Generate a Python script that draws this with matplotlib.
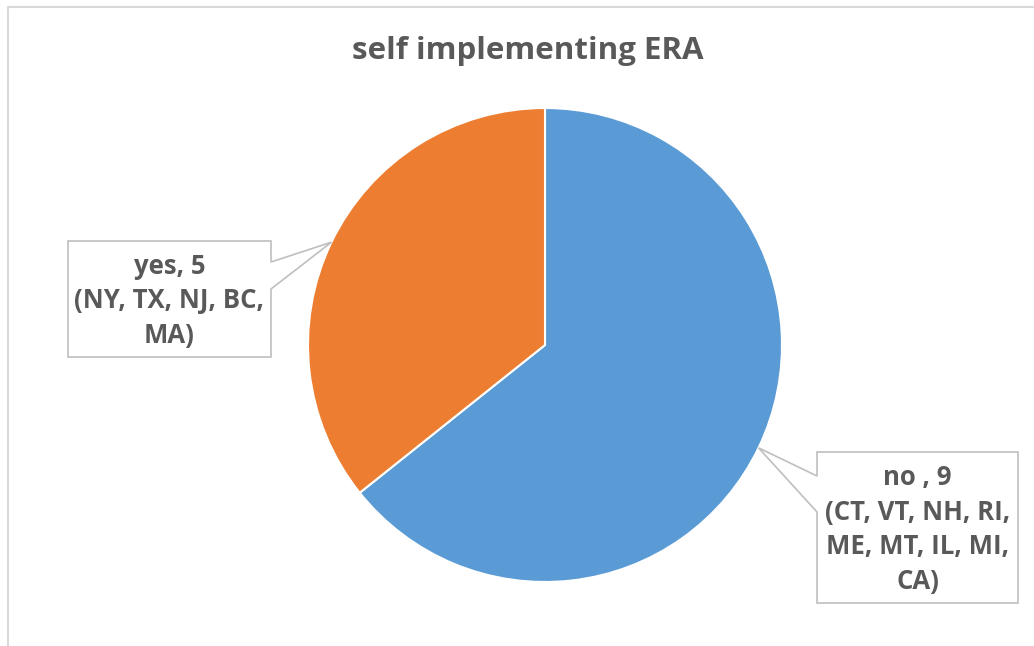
import numpy as np
import matplotlib
matplotlib.use('Agg')
import matplotlib.pyplot as plt
from matplotlib.patches import Polygon

# categories and counts
categories = ['no ', 'yes']
counts = [9, 5]
states = [
    ['CT', 'VT', 'NH', 'RI', 'ME', 'MT', 'IL', 'MI', 'CA'],
    ['NY', 'TX', 'NJ', 'BC', 'MA'],
]
colors = ['#5B9BD5', '#ED7D31']

W, H = 1034, 646
TXT = '#595959'
FONT = 'Open Sans'


def fy(y):
    # pixel row (from top) -> data y
    return H - y


def make_label(cat, n, st):
    # four states per line, last line closed with a bracket
    rows = [', '.join(st[i:i + 4]) for i in range(0, len(st), 4)]
    body = ',\n'.join(rows)
    return f'{cat}, {n}\n({body})'


fig = plt.figure(figsize=(W / 100, H / 100), dpi=100)
ax = fig.add_axes([0, 0, 1, 1])
ax.set_xlim(0, W)
ax.set_ylim(0, H)
ax.set_aspect('equal')
ax.axis('off')

# chart area border (left and top edges visible)
ax.plot([7.5, 7.5], [fy(7), 0], color='#d9d9d9', lw=1.5, solid_capstyle='butt')
ax.plot([7, W], [fy(7), fy(7)], color='#d9d9d9', lw=1.5, solid_capstyle='butt')

cx, cy, r = 545, 345, 237
wedges, _ = ax.pie(counts, colors=colors, startangle=90, counterclock=False,
                   center=(cx, fy(cy)), radius=r, frame=True,
                   wedgeprops=dict(edgecolor='white', linewidth=1.5))
ax.set_xlim(0, W)
ax.set_ylim(0, H)
ax.axis('off')

ax.text(528, fy(51), 'self implementing ERA', ha='center', va='center',
        fontsize=22.5, fontweight='bold', color=TXT, family=FONT)

# callout boxes: (left, top, right, bottom), side of the pointer, pointer base rows
boxes = [
    dict(box=(817, 452, 1018, 603), side='left', base=(476, 512)),
    dict(box=(68, 241, 271, 357), side='right', base=(262, 289)),
]

for w, cat, n, st, b in zip(wedges, categories, counts, states, boxes):
    mid = np.deg2rad((w.theta1 + w.theta2) / 2)
    tip = (cx + r * np.cos(mid), fy(cy) + r * np.sin(mid))
    x0, y0, x1, y1 = b['box']
    b0, b1 = b['base']
    if b['side'] == 'left':
        pts = [(x0, fy(y0)), (x1, fy(y0)), (x1, fy(y1)), (x0, fy(y1)),
               (x0, fy(b1)), tip, (x0, fy(b0))]
    else:
        pts = [(x0, fy(y0)), (x1, fy(y0)), (x1, fy(b0)), tip,
               (x1, fy(b1)), (x1, fy(y1)), (x0, fy(y1))]
    ax.add_patch(Polygon(pts, closed=True, facecolor='white',
                         edgecolor='#bfbfbf', lw=1.2, zorder=5))
    ax.text((x0 + x1) / 2, fy((y0 + y1) / 2 + 2), make_label(cat, n, st),
            ha='center', va='center', fontsize=18.5, fontweight='bold',
            color=TXT, family=FONT, linespacing=1.37, zorder=6)

fig.savefig('out.png', dpi=100, facecolor='white')
